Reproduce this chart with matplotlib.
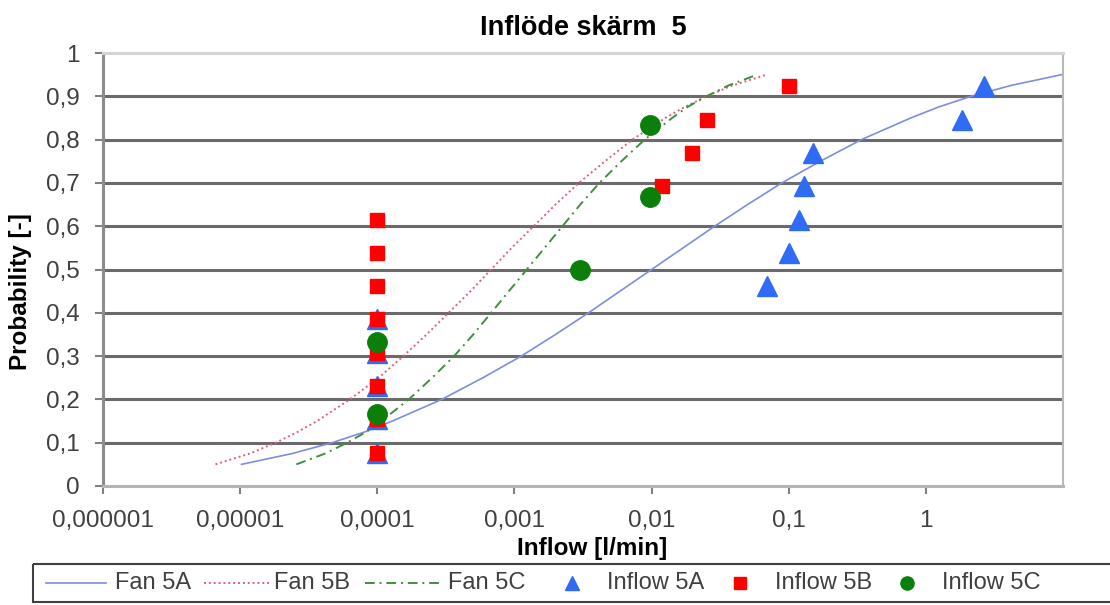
import matplotlib.pyplot as plt
from matplotlib.lines import Line2D
from matplotlib.patches import Rectangle

plt.rcParams['font.family'] = ['Liberation Sans', 'DejaVu Sans']

# Fitted distribution curves: probability level -> log10(inflow [l/min])
prob_levels = [0.05, 0.075, 0.10, 0.125, 0.15, 0.20, 0.25, 0.30, 0.35, 0.40, 0.45, 0.50,
               0.55, 0.60, 0.65, 0.70, 0.75, 0.80, 0.85, 0.875, 0.90, 0.925, 0.95]
fan_5a_log = [-4.99, -4.62, -4.33, -4.09, -3.89, -3.53, -3.23, -2.95, -2.70, -2.46, -2.23, -2.00,
              -1.77, -1.54, -1.30, -1.05, -0.77, -0.47, -0.11, 0.09, 0.33, 0.62, 0.99]
fan_5b_log = [-5.18, -4.93, -4.74, -4.58, -4.44, -4.20, -3.99, -3.81, -3.64, -3.48, -3.32, -3.17,
              -3.02, -2.86, -2.70, -2.53, -2.34, -2.14, -1.90, -1.76, -1.60, -1.41, -1.16]
fan_5c_log = [-4.59, -4.38, -4.22, -4.08, -3.97, -3.77, -3.60, -3.44, -3.30, -3.17, -3.04, -2.91,
              -2.78, -2.65, -2.52, -2.38, -2.22, -2.05, -1.85, -1.74, -1.60, -1.44, -1.23]

# Measured inflows and their cumulative probabilities
inflow_5a_x = [0.0001, 0.0001, 0.0001, 0.0001, 0.0001, 0.07, 0.1, 0.118, 0.129, 0.15, 1.82, 2.64]
inflow_5a_p = [0.077, 0.154, 0.231, 0.308, 0.385, 0.462, 0.538, 0.615, 0.692, 0.769, 0.846, 0.923]
inflow_5b_x = [0.0001, 0.0001, 0.0001, 0.0001, 0.0001, 0.0001, 0.0001, 0.0001,
               0.0119, 0.0196, 0.0254, 0.1]
inflow_5b_p = [0.077, 0.154, 0.231, 0.308, 0.385, 0.462, 0.538, 0.615,
               0.692, 0.769, 0.846, 0.923]
inflow_5c_x = [0.0001, 0.0001, 0.003, 0.0098, 0.0098]
inflow_5c_p = [0.167, 0.333, 0.500, 0.667, 0.833]

x_ticks = [1e-6, 1e-5, 1e-4, 1e-3, 1e-2, 1e-1, 1]
x_tick_labels = ['0,000001', '0,00001', '0,0001', '0,001', '0,01', '0,1', '1']
y_ticks = [0, 0.1, 0.2, 0.3, 0.4, 0.5, 0.6, 0.7, 0.8, 0.9, 1]
y_tick_labels = ['0', '0,1', '0,2', '0,3', '0,4', '0,5', '0,6', '0,7', '0,8', '0,9', '1']

c_5a_line, c_5b_line, c_5c_line = '#7d8de0', '#e0607a', '#3f8f3f'
c_5a, c_5b, c_5c = '#2f6bf5', '#ff0000', '#0a800a'
text_grey = '#404040'

fig = plt.figure(figsize=(11.1, 6.05), dpi=100)
ax = fig.add_axes([103 / 1110, 1 - 486 / 605, 960 / 1110, 433 / 605])

ax.set_xscale('log')
ax.set_xlim(1e-6, 10)
ax.set_ylim(0, 1)

# horizontal gridlines
for y in y_ticks[1:-1]:
    ax.axhline(y, color='#6a6a6a', lw=2.2, zorder=1)

ax.plot([10 ** v for v in fan_5a_log], prob_levels, color=c_5a_line, lw=1.2, zorder=2)
ax.plot([10 ** v for v in fan_5b_log], prob_levels, color=c_5b_line, lw=1.4,
        linestyle=(0, (1, 1.5)), zorder=2)
ax.plot([10 ** v for v in fan_5c_log], prob_levels, color=c_5c_line, lw=1.4,
        linestyle=(0, (5, 2.5, 1, 2.5)), zorder=2)

ax.plot(inflow_5a_x, inflow_5a_p, linestyle='none', marker='^', ms=15,
        color=c_5a, mec=c_5a, zorder=3)
ax.plot(inflow_5b_x, inflow_5b_p, linestyle='none', marker='s', ms=10,
        color=c_5b, mec=c_5b, zorder=4)
ax.plot(inflow_5c_x, inflow_5c_p, linestyle='none', marker='o', ms=14,
        color=c_5c, mec=c_5c, zorder=5)

ax.set_xticks(x_ticks)
ax.set_xticklabels(x_tick_labels)
ax.minorticks_off()
ax.set_yticks(y_ticks)
ax.set_yticklabels(y_tick_labels)
ax.tick_params(axis='both', direction='out', length=6, width=1.5, color='#808080',
               labelsize=17.5, labelcolor=text_grey, pad=11)

ax.spines['left'].set_color('#8c8c8c')
ax.spines['left'].set_linewidth(2.2)
ax.spines['bottom'].set_color('#b4b4b4')
ax.spines['bottom'].set_linewidth(2.2)
ax.spines['top'].set_color('#d4d4d4')
ax.spines['top'].set_linewidth(2.2)
ax.spines['right'].set_color('#b8b8b8')
ax.spines['right'].set_linewidth(1.5)

ax.set_title('Inflöde skärm  5', fontsize=19.5, fontweight='bold', pad=13)
ax.set_xlabel('Inflow [l/min]', fontsize=17.5, fontweight='bold')
ax.set_ylabel('Probability [-]', fontsize=17.5, fontweight='bold')
ax.yaxis.set_label_coords(-0.074, 0.45)
ax.xaxis.set_label_coords(0.51, -0.118)

# legend strip along the bottom, laid out in pixel coordinates
lg = fig.add_axes([0, 0, 1, 1])
lg.set_xlim(0, 1110)
lg.set_ylim(605, 0)
lg.axis('off')
lg.add_patch(Rectangle((33, 564), 1100, 38, fill=False, edgecolor='#404040', lw=1.5))
yc = 583
lg.add_line(Line2D([46, 106], [yc, yc], color=c_5a_line, lw=1.2))
lg.add_line(Line2D([204, 269], [yc, yc], color=c_5b_line, lw=1.4, linestyle=(0, (1, 1.5))))
lg.add_line(Line2D([365, 440], [yc, yc], color=c_5c_line, lw=1.4,
                   linestyle=(0, (5, 2.5, 1, 2.5))))
lg.plot([572], [yc], marker='^', ms=9.5, color=c_5a, linestyle='none')
lg.plot([740], [yc], marker='s', ms=9, color=c_5b, linestyle='none')
lg.plot([907], [yc], marker='o', ms=9.5, color=c_5c, linestyle='none')
for x, name in [(115, 'Fan 5A'), (274, 'Fan 5B'), (448, 'Fan 5C'),
                (607, 'Inflow 5A'), (775, 'Inflow 5B'), (942, 'Inflow 5C')]:
    lg.text(x, yc, name, fontsize=17, color=text_grey, ha='left', va='center')

fig.savefig('out.png', dpi=100)
